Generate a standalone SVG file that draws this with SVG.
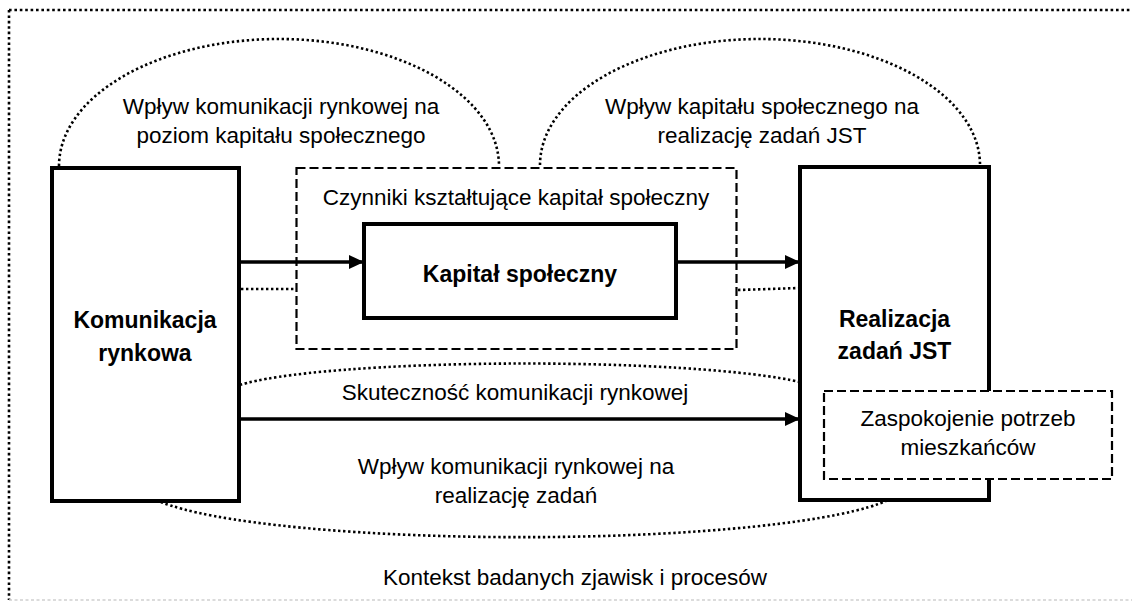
<svg xmlns="http://www.w3.org/2000/svg" width="1132" height="601" viewBox="0 0 1132 601">
  <style>
    .t { font-family: "Liberation Sans", Arial, sans-serif; font-size: 22.5px; fill: #000; text-anchor: middle; }
    .b { font-family: "Liberation Sans", Arial, sans-serif; font-size: 23px; font-weight: bold; fill: #000; text-anchor: middle; }
    .box { fill: #fff; stroke: #000; stroke-width: 4; }
    .dbox { fill: #fff; stroke: #000; stroke-width: 2.2; stroke-dasharray: 9 4; }
    .dot { fill: none; stroke: #000; stroke-width: 2.6; stroke-dasharray: 2.4 2.6; }
    .arrow { fill: none; stroke: #000; stroke-width: 3.5; marker-end: url(#ah); }
  </style>
  <defs>
    <marker id="ah" markerUnits="userSpaceOnUse" markerWidth="16" markerHeight="15" refX="15" refY="7" orient="auto">
      <path d="M0,0 L15,7 L0,14 z" fill="#000"/>
    </marker>
  </defs>
  <rect width="1132" height="601" fill="#fff"/>

  <g id="context">
    <path d="M9,10 H1132" fill="none" stroke="#000" stroke-width="2.6" stroke-dasharray="2.6 2.8"/>
    <path d="M9,10 V600" fill="none" stroke="#000" stroke-width="2.6" stroke-dasharray="2.6 2.8"/>
    <path d="M9,600 H1132" fill="none" stroke="#d0d0d0" stroke-width="1.5" stroke-dasharray="3 2.5"/>
    <text class="t" x="575" y="585">Kontekst badanych zjawisk i procesów</text>
  </g>

  <g id="influences">
    <path class="dot" d="M59,166 A220,127 0 0 1 499,166"/>
    <text class="t" x="281" y="114">Wpływ komunikacji rynkowej na</text>
    <text class="t" x="281" y="143">poziom kapitału społecznego</text>
    <path class="dot" d="M540,165 A220,126 0 0 1 980,165"/>
    <text class="t" x="762" y="114">Wpływ kapitału społecznego na</text>
    <text class="t" x="762" y="143">realizację zadań JST</text>
    <path class="dot" d="M240,385 A300,31 0 0 1 800,382"/>
    <text class="t" x="515" y="400">Skuteczność komunikacji rynkowej</text>
    <path class="dot" d="M161,502 A380,51 0 0 0 888,500"/>
    <text class="t" x="516" y="474">Wpływ komunikacji rynkowej na</text>
    <text class="t" x="516" y="503">realizację zadań</text>
  </g>

  <g id="czynniki">
    <rect class="dbox" x="296.5" y="168" width="440" height="181"/>
    <text class="t" x="516" y="205">Czynniki kształtujące kapitał społeczny</text>
  </g>

  <g id="komunikacja">
    <rect class="box" x="52" y="168" width="187" height="333"/>
    <text class="b" x="145" y="328">Komunikacja</text>
    <text class="b" x="145" y="361">rynkowa</text>
  </g>

  <g id="kapital">
    <rect class="box" x="364" y="224" width="312" height="94"/>
    <text class="b" x="520" y="282">Kapitał społeczny</text>
  </g>

  <g id="realizacja">
    <rect class="box" x="800" y="167" width="189" height="333"/>
    <text class="b" x="894.5" y="327">Realizacja</text>
    <text class="b" x="894.5" y="359">zadań JST</text>
  </g>

  <g id="zaspokojenie">
    <rect class="dbox" x="824" y="391" width="288" height="88"/>
    <text class="t" x="968" y="426">Zaspokojenie potrzeb</text>
    <text class="t" x="968" y="455">mieszkańców</text>
  </g>

  <g id="connectors">
    <path class="arrow" d="M239,262 H364"/>
    <path class="arrow" d="M676,262 H800"/>
    <path class="arrow" d="M239,419 H800"/>
    <path class="dot" d="M241,289 H296"/>
    <path class="dot" d="M738,290 L799,288"/>
  </g>
</svg>
